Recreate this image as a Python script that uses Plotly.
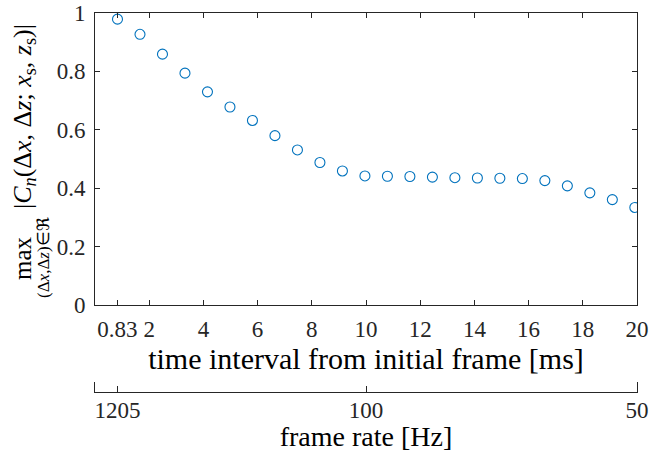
import plotly.graph_objects as go

# data
time_ms = [0.83, 1.66, 2.49, 3.32, 4.15, 4.98, 5.81, 6.64, 7.47, 8.30, 9.13, 9.96,
           10.79, 11.62, 12.45, 13.28, 14.11, 14.94, 15.77, 16.60, 17.43, 18.26, 19.09, 19.92]
max_corr = [0.979, 0.927, 0.859, 0.794, 0.730, 0.678, 0.632, 0.580, 0.531, 0.488, 0.459, 0.442,
            0.441, 0.440, 0.438, 0.436, 0.435, 0.434, 0.433, 0.426, 0.408, 0.384, 0.361, 0.334]

x_tickvals = [0.83, 2, 4, 6, 8, 10, 12, 14, 16, 18, 20]
x_ticktext = ["0.83", "2", "4", "6", "8", "10", "12", "14", "16", "18", "20"]
y_tickvals = [0, 0.2, 0.4, 0.6, 0.8, 1]
y_ticktext = ["0", "0.2", "0.4", "0.6", "0.8", "1"]
fr_tickvals = [0.83, 10, 20]
fr_ticktext = ["1205", "100", "50"]

W, H = 654, 452
L, R, T, B = 95, 17, 13, 60
pw, ph = W - L - R, H - T - B
ax_bottom_px = 305
dom0 = (H - B - ax_bottom_px) / ph

def px2paper(px, py):
    return (px - L) / pw, (H - B - py) / ph

AX = "#262626"
SERIF = "Liberation Serif, Times New Roman, serif"

fig = go.Figure()
fig.add_trace(go.Scatter(
    x=time_ms, y=max_corr, mode="markers",
    marker=dict(symbol="circle-open", size=10, color="#0072BD", line=dict(width=1.1, color="#0072BD")),
    showlegend=False, hoverinfo="x+y"))
# same series attached to the frame-rate axis (transparent, clipped) so that axis is drawn
fig.add_trace(go.Scatter(
    x=time_ms, y=max_corr, mode="markers", xaxis="x2", yaxis="y2",
    marker=dict(symbol="circle-open", size=10, opacity=0),
    showlegend=False, hoverinfo="skip"))

fig.update_layout(
    width=W, height=H,
    margin=dict(l=L, r=R, t=T, b=B, autoexpand=False),
    paper_bgcolor="white", plot_bgcolor="white",
    font=dict(family=SERIF, color=AX, size=23),
    xaxis=dict(
        range=[0, 20], domain=[0, 1], anchor="y",
        tickvals=x_tickvals, ticktext=x_ticktext,
        ticks="inside", ticklen=5, tickwidth=1, tickcolor=AX,
        showline=True, linecolor=AX, linewidth=1, mirror="ticks",
        showgrid=False, zeroline=False, ticklabelstandoff=3,
        tickfont=dict(size=23, family=SERIF, color=AX),
        title=dict(text="time interval from initial frame [ms]",
                   font=dict(size=30, family=SERIF, color="black"), standoff=0),
    ),
    yaxis=dict(
        range=[0, 1], domain=[dom0, 1], anchor="x",
        tickvals=y_tickvals, ticktext=y_ticktext,
        ticks="inside", ticklen=5, tickwidth=1, tickcolor=AX,
        showline=True, linecolor=AX, linewidth=1, mirror="ticks",
        showgrid=False, zeroline=False, ticklabelstandoff=4,
        tickfont=dict(size=23, family=SERIF, color=AX),
    ),
    xaxis2=dict(
        range=[0, 20], domain=[0, 1], anchor="y2", side="bottom",
        tickvals=fr_tickvals, ticktext=fr_ticktext,
        ticks="inside", ticklen=6, tickwidth=1, tickcolor=AX,
        showline=True, linecolor=AX, linewidth=1, mirror=False,
        showgrid=False, zeroline=False, ticklabelstandoff=-3,
        tickfont=dict(size=23, family=SERIF, color=AX),
        title=dict(text="frame rate [Hz]",
                   font=dict(size=28, family=SERIF, color="black"), standoff=2),
    ),
    yaxis2=dict(
        range=[5, 6], domain=[0, 10 / ph], anchor="x2",
        showline=True, linecolor=AX, linewidth=1, mirror=True,
        showticklabels=False, ticks="", showgrid=False, zeroline=False,
    ),
)

# y-axis label built from rotated text pieces
ax1, ay1 = px2paper(24, 117)
ax2, ay2 = px2paper(22, 258)
ax3, ay3 = px2paper(43, 258)
fig.add_annotation(x=ax1, y=ay1, xref="paper", yref="paper", textangle=-90,
                   text="|<i>C</i><sub><i>n</i></sub>(Δ<i>x</i>, Δ<i>z</i>; <i>x</i><sub>s</sub>, <i>z</i><sub>s</sub>)|",
                   showarrow=False, xanchor="center", yanchor="middle",
                   font=dict(size=26, family=SERIF, color="black"))
fig.add_annotation(x=ax2, y=ay2, xref="paper", yref="paper", textangle=-90,
                   text="max", showarrow=False, xanchor="center", yanchor="middle",
                   font=dict(size=25, family=SERIF, color="black"))
fig.add_annotation(x=ax3, y=ay3, xref="paper", yref="paper", textangle=-90,
                   text="(Δ<i>x</i>,Δ<i>z</i>)∈ℜ", showarrow=False, xanchor="center", yanchor="middle",
                   font=dict(size=17, family=SERIF, color="black"))

fig.write_html("out.html")
